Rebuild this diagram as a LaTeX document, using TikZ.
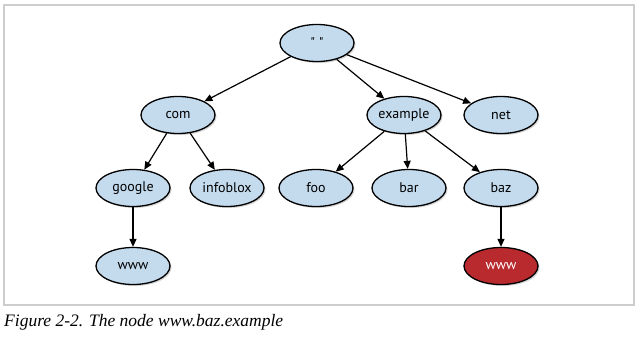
\documentclass[tikz,border=0pt]{standalone}
\usepackage{fontspec}
\setmainfont{Liberation Serif}
\newfontfamily\labelfont{PT Sans}
\usepackage{xcolor}
\usetikzlibrary{arrows.meta,shadows,shapes.geometric}
\definecolor{nodeblue}{RGB}{196,219,238}
\definecolor{nodered}{RGB}{184,42,46}
\definecolor{framegray}{RGB}{205,205,205}

\begin{document}
\begin{tikzpicture}[x=1pt,y=-1pt,treenode/.style={ellipse,draw=black,line width=1.3pt,fill=nodeblue,minimum width=74pt,minimum height=37pt,inner sep=0pt,font=\labelfont\fontsize{14}{16}\selectfont,drop shadow={shadow xshift=1.5pt,shadow yshift=-1.5pt,opacity=0.35}},link/.style={line width=1.2pt,-{Triangle[length=8pt,width=7pt]}}]
\useasboundingbox (0,0) rectangle (640,340);
\draw[framegray,line width=1.2pt] (4,5) rectangle (634,305);
\node[treenode] (root) at (317,43) {\textquotedbl\ \textquotedbl};
\node[treenode] (com) at (178,115) {com};
\node[treenode] (example) at (404,115) {example};
\node[treenode] (net) at (501,115) {net};
\node[treenode] (google) at (133,188) {google};
\node[treenode] (infoblox) at (227,188) {infoblox};
\node[treenode] (foo) at (316,188) {foo};
\node[treenode] (bar) at (409,188) {bar};
\node[treenode] (baz) at (501,188) {baz};
\node[treenode] (wwwgoogle) at (133,266) {www};
\node[treenode,fill=nodered,text=white] (wwwbaz) at (501,266) {www};
\draw[link] (root) -- (com);
\draw[link] (root) -- (example);
\draw[link] (root) -- (net);
\draw[link] (com) -- (google);
\draw[link] (com) -- (infoblox);
\draw[link] (example) -- (foo);
\draw[link] (example) -- (bar);
\draw[link] (example) -- (baz);
\draw[link] (google) -- (wwwgoogle);
\draw[link] (baz) -- (wwwbaz);
\node[anchor=west,inner sep=0pt,font=\itshape\fontsize{17.5}{20}\selectfont] (caption) at (4,322) {Figure 2-2. The node www.baz.example};
\end{tikzpicture}
\end{document}
